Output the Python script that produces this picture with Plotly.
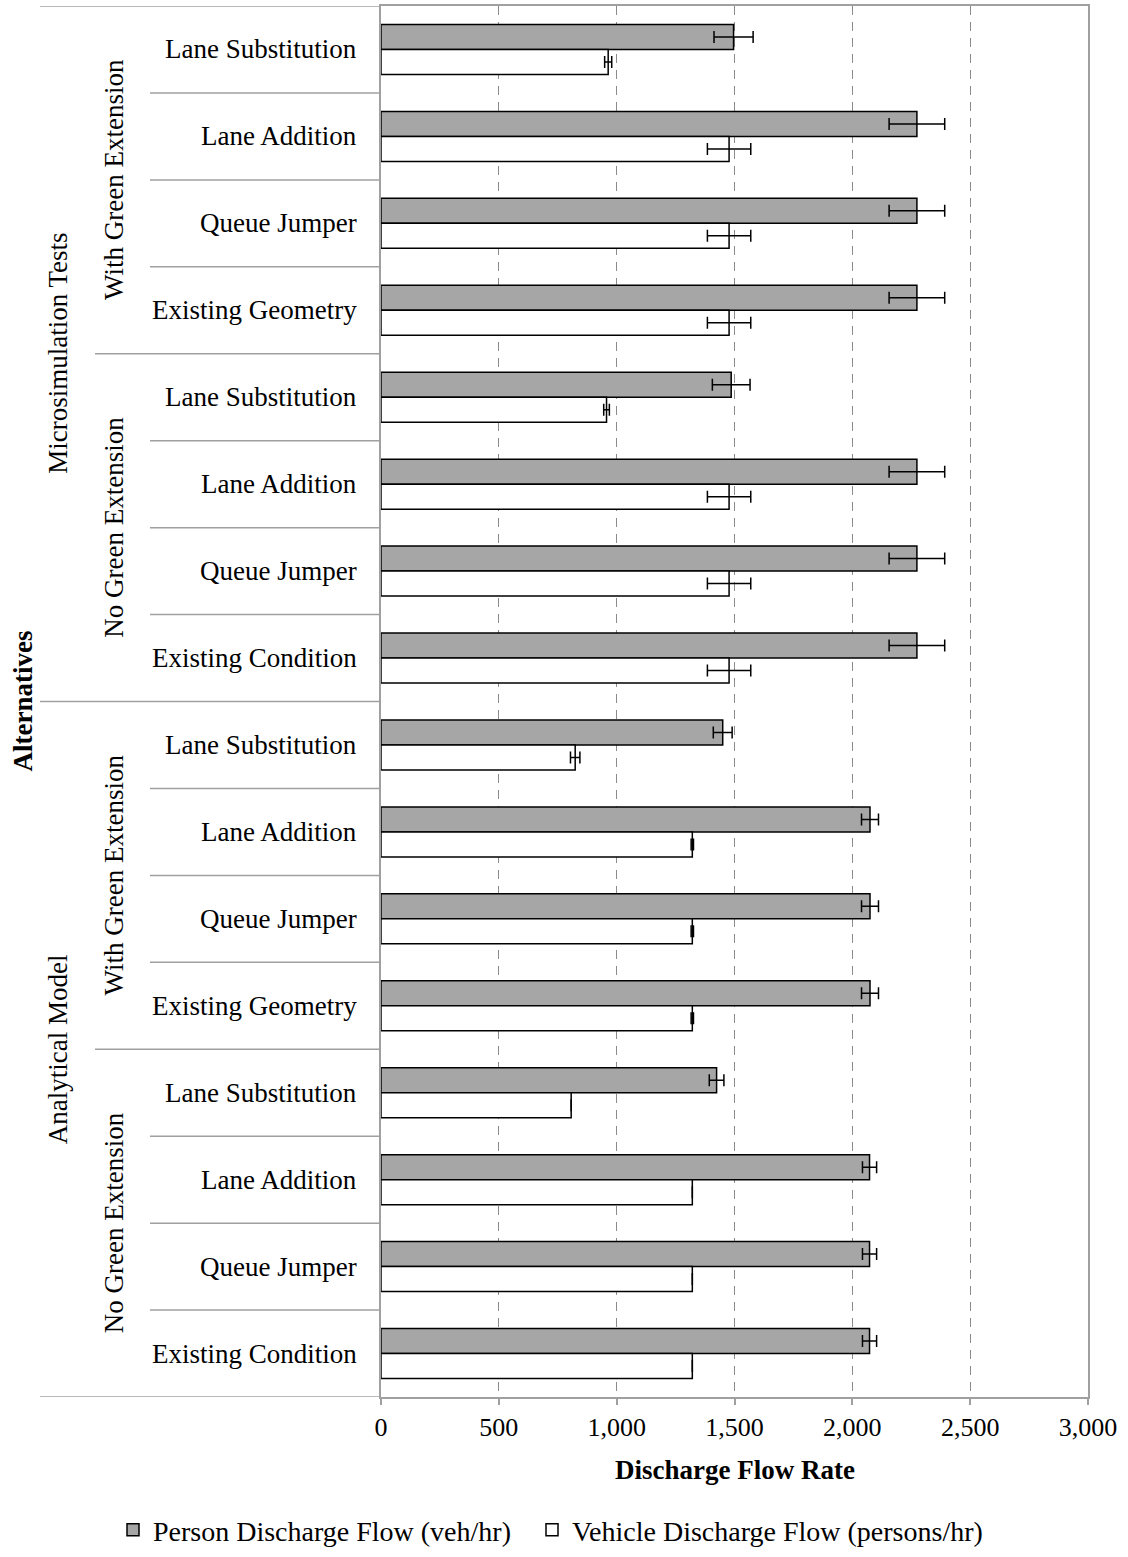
import plotly.graph_objects as go

# Alternatives, listed top to bottom
models = ["Microsimulation Tests", "Analytical Model"]
signal_plans = ["With Green Extension", "No Green Extension",
                "With Green Extension", "No Green Extension"]
alternatives = [
    "Lane Substitution", "Lane Addition", "Queue Jumper", "Existing Geometry",
    "Lane Substitution", "Lane Addition", "Queue Jumper", "Existing Condition",
    "Lane Substitution", "Lane Addition", "Queue Jumper", "Existing Geometry",
    "Lane Substitution", "Lane Addition", "Queue Jumper", "Existing Condition",
]

person_flow = [1496, 2274, 2274, 2274, 1486, 2274, 2274, 2274,
               1450, 2075, 2075, 2075, 1424, 2073, 2073, 2073]
person_err = [83, 118, 118, 118, 80, 118, 118, 118,
              40, 36, 36, 36, 31, 30, 30, 30]
vehicle_flow = [964, 1477, 1477, 1477, 957, 1477, 1477, 1477,
                824, 1321, 1321, 1321, 807, 1321, 1321, 1321]
vehicle_err = [15, 92, 92, 92, 12, 92, 92, 92,
               20, 5, 5, 5, 0, 0, 0, 0]

x_ticks = [0, 500, 1000, 1500, 2000, 2500, 3000]

FONT = "Liberation Serif"
LINE_GREY = "#a0a0a0"

W, H = 1128, 1557
ML, MR, MT, MB = 381, 40, 6, 160
PW = W - ML - MR
PH = H - MT - MB


def px_x(px):
    """Horizontal pixel position -> paper coordinate."""
    return (px - ML) / PW


def px_y(py):
    """Vertical pixel position -> paper coordinate."""
    return (H - MB - py) / PH


ypos = list(range(len(alternatives)))

fig = go.Figure()
fig.add_trace(go.Bar(
    name="Person Discharge Flow (veh/hr)", legend="legend", showlegend=True,
    y=ypos, x=person_flow, orientation="h",
    marker=dict(color="#a6a6a6", line=dict(color="black", width=1.5)),
    error_x=dict(type="data", array=person_err, color="black",
                 thickness=1.5, width=6),
))
fig.add_trace(go.Bar(
    name="Vehicle Discharge Flow (persons/hr)", legend="legend2",
    showlegend=True,
    y=ypos, x=vehicle_flow, orientation="h",
    marker=dict(color="white", line=dict(color="black", width=1.5)),
    error_x=dict(type="data", array=vehicle_err, color="black",
                 thickness=1.5, width=6),
))

shapes = []
annotations = []
n = len(alternatives)

# outer lines of the category table (top and bottom, extended to the left)
for yb in (-0.5, n - 0.5):
    shapes.append(dict(type="line", xref="paper", yref="y",
                       x0=px_x(40), x1=0, y0=yb, y1=yb,
                       line=dict(color=LINE_GREY, width=1.5)))

# separators between rows: leaf, signal plan, model
for i in range(n - 1):
    b = i + 0.5
    if (i + 1) % 8 == 0:
        x0 = px_x(40)
    elif (i + 1) % 4 == 0:
        x0 = px_x(95)
    else:
        x0 = px_x(150)
    shapes.append(dict(type="line", xref="paper", yref="y",
                       x0=x0, x1=0, y0=b, y1=b,
                       line=dict(color=LINE_GREY, width=1.5)))

for i, name in enumerate(alternatives):
    annotations.append(dict(text=name, xref="paper", yref="y",
                            x=px_x(359), y=i, xanchor="right",
                            yanchor="middle", showarrow=False,
                            font=dict(family=FONT, size=27, color="black")))

for g, plan in enumerate(signal_plans):
    annotations.append(dict(text=plan, xref="paper", yref="y",
                            x=px_x(114), y=g * 4 + 1.5, textangle=-90,
                            xanchor="center", yanchor="middle",
                            showarrow=False,
                            font=dict(family=FONT, size=27, color="black")))

for m, model in enumerate(models):
    annotations.append(dict(text=model, xref="paper", yref="y",
                            x=px_x(58), y=m * 8 + 3.5, textangle=-90,
                            xanchor="center", yanchor="middle",
                            showarrow=False,
                            font=dict(family=FONT, size=27, color="black")))

annotations.append(dict(text="<b>Alternatives</b>", xref="paper", yref="y",
                        x=px_x(22), y=(n - 1) / 2, textangle=-90,
                        xanchor="center", yanchor="middle", showarrow=False,
                        font=dict(family=FONT, size=27, color="black")))

annotations.append(dict(text="<b>Discharge Flow Rate</b>", xref="paper",
                        yref="paper", x=0.5, y=px_y(1470),
                        xanchor="center", yanchor="middle", showarrow=False,
                        font=dict(family=FONT, size=27, color="black")))

legend_font = dict(family=FONT, size=28, color="black")

fig.update_layout(
    width=W, height=H,
    margin=dict(l=ML, r=MR, t=MT, b=MB, autoexpand=False),
    paper_bgcolor="white", plot_bgcolor="white",
    showlegend=True,
    barmode="group", bargap=0.425, bargroupgap=0,
    font=dict(family=FONT, size=26, color="black"),
    shapes=shapes, annotations=annotations,
    legend=dict(orientation="h", x=px_x(153 - 40), y=px_y(1530),
                xanchor="left", yanchor="middle", font=legend_font,
                itemwidth=30, bgcolor="rgba(0,0,0,0)", visible=True),
    legend2=dict(orientation="h", x=px_x(572 - 40), y=px_y(1530),
                 xanchor="left", yanchor="middle", font=legend_font,
                 itemwidth=30, bgcolor="rgba(0,0,0,0)", visible=True),
    xaxis=dict(range=[0, 3000], tickvals=x_ticks,
               ticktext=[f"{v:,}" for v in x_ticks],
               showgrid=True, gridcolor="#8c8c8c", griddash="9px,7px",
               gridwidth=1.2, zeroline=False,
               showline=True, linecolor=LINE_GREY, linewidth=1.5,
               mirror=True, ticks="outside", ticklen=6,
               tickcolor=LINE_GREY, tickwidth=1.5,
               ticklabelstandoff=0,
               tickfont=dict(family=FONT, size=26, color="black")),
    yaxis=dict(range=[n - 0.5, -0.5], showticklabels=False,
               showgrid=False, zeroline=False,
               showline=True, linecolor=LINE_GREY, linewidth=1.5,
               mirror=True, ticks=""),
)

fig.write_html("out.html")
